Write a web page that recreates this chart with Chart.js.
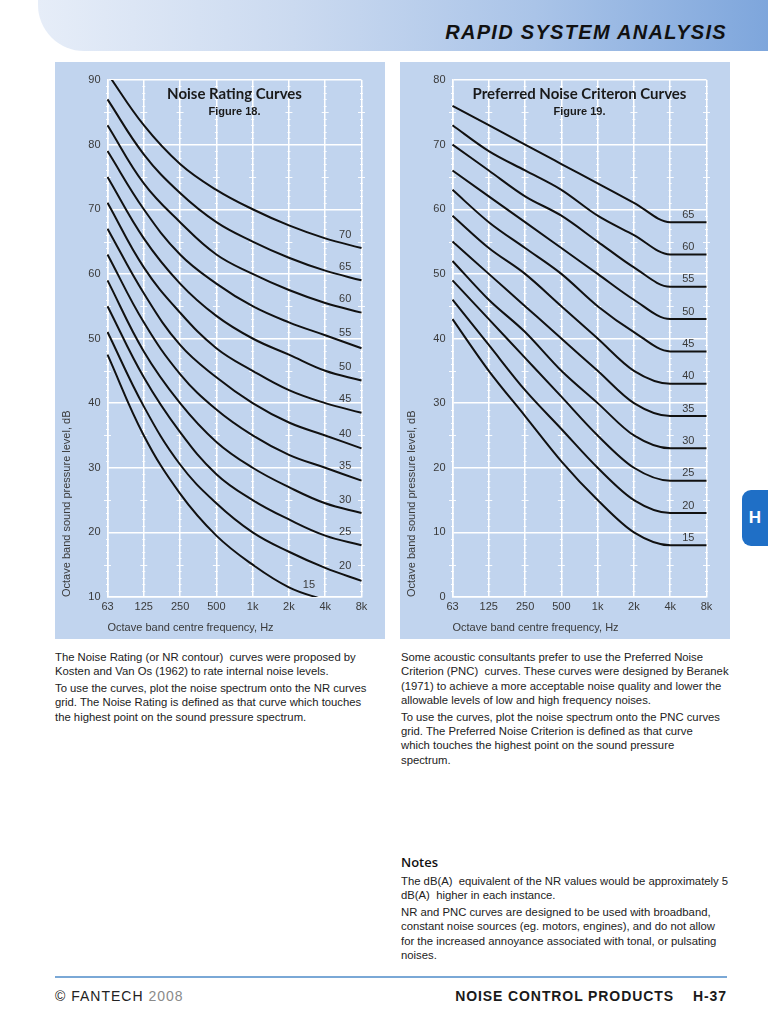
<!DOCTYPE html>
<html>
<head>
<meta charset="utf-8">
<script src="https://cdn.jsdelivr.net/npm/chart.js@4.4.1/dist/chart.umd.min.js"></script>
<style>
  body { margin: 0; background: #fff; font-family: "Liberation Sans", Arial, sans-serif; color: #222; }
  #page { position: relative; width: 768px; height: 1024px; overflow: hidden; }
  .header { position: absolute; left: 38px; top: 0; width: 730px; height: 51px; border-bottom-left-radius: 46px;
            background: linear-gradient(to right, #e6edf8 0%, #cbdaf0 35%, #aac4e8 68%, #7ea6dc 100%); }
  .header span { position: absolute; right: 41px; top: 21px; font: italic bold 20px "Liberation Sans"; letter-spacing: 1.3px; color: #111; }
  .panel { position: absolute; top: 62px; width: 330px; height: 577px; background: #c1d4ee; }
  .panel canvas { position: absolute; left: 0; top: 0; }
  .ttl { position: absolute; left: 52px; width: 255px; top: 22px; line-height: 18px; text-align: center; white-space: nowrap;
         font: bold 15px Lato, "Noto Sans", sans-serif; color: #1a1a1a; }
  .fig { position: absolute; left: 52px; width: 255px; top: 43px; line-height: 14px; text-align: center; white-space: nowrap;
         font: bold 11px "Liberation Sans", Arial, sans-serif; color: #1a1a1a; }
  .col { position: absolute; width: 340px; font-size: 11.3px; line-height: 14.3px; color: #222; white-space: nowrap; }
  .col p { margin: 0 0 2.6px 0; }
  .notes-h { font: 600 13px "Open Sans", sans-serif; margin-bottom: 3px; color: #111; }
  .tab { position: absolute; left: 742px; top: 490px; width: 40px; height: 56px; border-radius: 9px; background: #1f6fc6; }
  .tab span { position: absolute; left: 0; width: 26px; top: 18px; text-align: center; font: bold 17px "Liberation Sans"; color: #fff; }
  .rule { position: absolute; left: 55px; top: 976px; width: 672px; height: 1.5px; background: #7aa8d6; }
  .foot-l { position: absolute; left: 55px; top: 988px; font-size: 14px; letter-spacing: 1px; color: #222; }
  .foot-l .yr { color: #8a8a8a; }
  .foot-r { position: absolute; right: 41px; top: 988px; font-weight: bold; font-size: 14px; letter-spacing: 0.9px; color: #1a1a1a; white-space: nowrap; }
</style>
</head>
<body>
<div id="page">
  <div class="header"><span>RAPID SYSTEM ANALYSIS</span></div>

  <div class="panel" style="left:55px">
    <canvas id="nrChart" width="330" height="577"></canvas>
    <div class="ttl">Noise Rating Curves</div>
    <div class="fig">Figure 18.</div>
  </div>

  <div class="panel" style="left:400px">
    <canvas id="pncChart" width="330" height="577"></canvas>
    <div class="ttl">Preferred Noise Criteron Curves</div>
    <div class="fig">Figure 19.</div>
  </div>

  <div class="col" style="left:55px; top:650px">
    <p>The Noise Rating (or NR contour)&nbsp; curves were proposed by<br>Kosten and Van Os (1962) to rate internal noise levels.</p>
    <p>To use the curves, plot the noise spectrum onto the NR curves<br>grid. The Noise Rating is defined as that curve which touches<br>the highest point on the sound pressure spectrum.</p>
  </div>

  <div class="col" style="left:401px; top:650px">
    <p>Some acoustic consultants prefer to use the Preferred Noise<br>Criterion (PNC)&nbsp; curves. These curves were designed by Beranek<br>(1971) to achieve a more acceptable noise quality and lower the<br>allowable levels of low and high frequency noises.</p>
    <p>To use the curves, plot the noise spectrum onto the PNC curves<br>grid. The Preferred Noise Criterion is defined as that curve<br>which touches the highest point on the sound pressure<br>spectrum.</p>
  </div>

  <div class="col" style="left:401px; top:853px">
    <div class="notes-h">Notes</div>
    <p>The dB(A)&nbsp; equivalent of the NR values would be approximately 5<br>dB(A)&nbsp; higher in each instance.</p>
    <p>NR and PNC curves are designed to be used with broadband,<br>constant noise sources (eg. motors, engines), and do not allow<br>for the increased annoyance associated with tonal, or pulsating<br>noises.</p>
  </div>

  <div class="tab"><span>H</span></div>
  <div class="rule"></div>
  <div class="foot-l">© FANTECH <span class="yr">2008</span></div>
  <div class="foot-r">NOISE CONTROL PRODUCTS&nbsp;&nbsp;&nbsp; H-37</div>
</div>

<script>
// octave band centre frequencies
const bands = ['63', '125', '250', '500', '1k', '2k', '4k', '8k'];

// Noise Rating curves (dB per octave band)
const nrNames = ['70', '65', '60', '55', '50', '45', '40', '35', '30', '25', '20', '15'];
const nr70 = [91, 83, 77, 73, 70, 67.5, 65.5, 64];
const nr65 = [87, 78.5, 72.5, 68, 65, 62.5, 60.5, 59];
const nr60 = [83, 74, 68, 63, 60, 57.5, 55.5, 54];
const nr55 = [79, 70, 63, 58.5, 55, 52.5, 50.5, 48.5];
const nr50 = [75, 65.5, 58.5, 53.5, 50, 47.5, 45, 43.5];
const nr45 = [71, 61, 54, 48.5, 45, 42, 40, 38.5];
const nr40 = [67, 57, 49, 44, 40, 37, 35, 33];
const nr35 = [63, 52.5, 44.5, 39, 35, 32, 30, 28];
const nr30 = [59, 48, 40, 34, 30, 27, 24.5, 23];
const nr25 = [55, 44, 35.5, 29, 25, 22, 19.5, 18];
const nr20 = [51, 39.5, 30.5, 24.5, 20, 17, 14.5, 12.5];
const nr15 = [47.5, 35, 26, 19.5, 15, 11.5, 9.5, 7.5];

// Preferred Noise Criterion curves
const pncNames = ['65', '60', '55', '50', '45', '40', '35', '30', '25', '20', '15'];
const pnc65 = [76, 73, 70, 67, 64, 61, 58, 58];
const pnc60 = [73, 69, 66, 63, 59, 56, 53, 53];
const pnc55 = [70, 66, 62, 59, 55, 51, 48, 48];
const pnc50 = [66, 62, 58, 54, 50, 46, 43, 43];
const pnc45 = [63, 58, 54, 50, 45, 41, 38, 38];
const pnc40 = [59, 54, 50, 45, 40, 35, 33, 33];
const pnc35 = [55, 50, 45, 40, 35, 30, 28, 28];
const pnc30 = [52, 46, 41, 35, 30, 25, 23, 23];
const pnc25 = [49, 43, 37, 31, 25, 20, 18, 18];
const pnc20 = [46, 39, 32, 26, 20, 15, 13, 13];
const pnc15 = [43, 35, 28, 21, 15, 10, 8, 8];

const nrSeries = [nr70, nr65, nr60, nr55, nr50, nr45, nr40, nr35, nr30, nr25, nr20, nr15];
const pncSeries = [pnc65, pnc60, pnc55, pnc50, pnc45, pnc40, pnc35, pnc30, pnc25, pnc20, pnc15];

Chart.defaults.font.family = '"Liberation Sans", Arial, sans-serif';
Chart.defaults.color = '#3a3a3a';

// little white dashes every dB along each octave line
const minorTicks = {
    id: 'minorTicks',
    beforeDatasetsDraw(chart) {
        const { ctx, scales: { x, y } } = chart;
        ctx.save();
        ctx.strokeStyle = 'rgba(255,255,255,0.9)';
        ctx.lineWidth = 1;
        for (let i = 0; i < x.ticks.length; i++) {
            const px = x.getPixelForTick(i);
            for (let v = y.min + 1; v < y.max; v++) {
                if (v % 10 === 0) continue;
                const py = Math.round(y.getPixelForValue(v)) + 0.5;
                const h = v % 5 === 0 ? 3.5 : 1.5;
                ctx.beginPath();
                ctx.moveTo(px - h, py);
                ctx.lineTo(px + h, py);
                ctx.stroke();
            }
        }
        ctx.restore();
    }
};

// curve numbers written just above each line near the right end
const curveLabels = {
    id: 'curveLabels',
    afterDatasetsDraw(chart, args, opts) {
        const { ctx, scales: { x, y } } = chart;
        ctx.save();
        ctx.font = '11px "Liberation Sans", Arial, sans-serif';
        ctx.fillStyle = '#3a3a3a';
        ctx.textAlign = 'center';
        ctx.textBaseline = 'middle';
        chart.data.datasets.forEach(ds => {
            const valAt = t => {
                const i = Math.floor(t), f = t - i;
                return ds.data[i] + (ds.data[i + 1] - ds.data[i]) * f;
            };
            let xi = opts.at;
            if (valAt(xi) < y.min + 2) xi -= 1;
            ctx.fillText(ds.label, x.getPixelForValue(xi), y.getPixelForValue(valAt(xi)) - opts.lift);
        });
        ctx.restore();
    }
};

function makeChart(id, names, series, yMin, yMax, lineOpts, labelOpts) {
    return new Chart(document.getElementById(id), {
        type: 'line',
        data: {
            labels: bands,
            datasets: series.map((s, i) => Object.assign({
                label: names[i],
                data: s,
                borderColor: '#111111',
                borderWidth: 2,
                pointRadius: 0,
                fill: false
            }, lineOpts))
        },
        options: {
            responsive: false,
            animation: false,
            layout: { padding: { top: 18, right: 23.5, left: 0, bottom: 0 } },
            scales: {
                x: {
                    type: 'category',
                    offset: false,
                    grid: { color: '#ffffff', lineWidth: 1.5, drawTicks: false },
                    border: { color: '#ffffff', width: 1.5 },
                    ticks: { padding: 3, font: { size: 11 }, color: '#3a3a3a', maxRotation: 0 },
                    title: {
                        display: true, text: 'Octave band centre frequency, Hz', align: 'start',
                        font: { size: 11 }, color: '#3a3a3a', padding: { top: 0, bottom: 4.4 }
                    },
                    afterFit: s => { s.height = 42; }
                },
                y: {
                    min: yMin, max: yMax,
                    grid: { color: '#ffffff', lineWidth: 1.5, drawTicks: false },
                    border: { color: '#ffffff', width: 1.5 },
                    ticks: { stepSize: 10, padding: 7, font: { size: 11 }, color: '#3a3a3a' },
                    title: {
                        display: true, text: 'Octave band sound pressure level, dB', align: 'start',
                        font: { size: 11 }, color: '#3a3a3a', padding: { top: 4.9, bottom: 0 }
                    },
                    afterFit: s => { s.width = 52.5; }
                }
            },
            plugins: {
                legend: { display: false },
                tooltip: { enabled: false },
                curveLabels: labelOpts
            }
        },
        plugins: [minorTicks, curveLabels]
    });
}

makeChart('nrChart', nrNames, nrSeries, 10, 90, { tension: 0.4 }, { at: 6.55, lift: 9 });
makeChart('pncChart', pncNames, pncSeries, 0, 80, { cubicInterpolationMode: 'monotone' }, { at: 6.5, lift: 7.5 });
</script>
</body>
</html>
